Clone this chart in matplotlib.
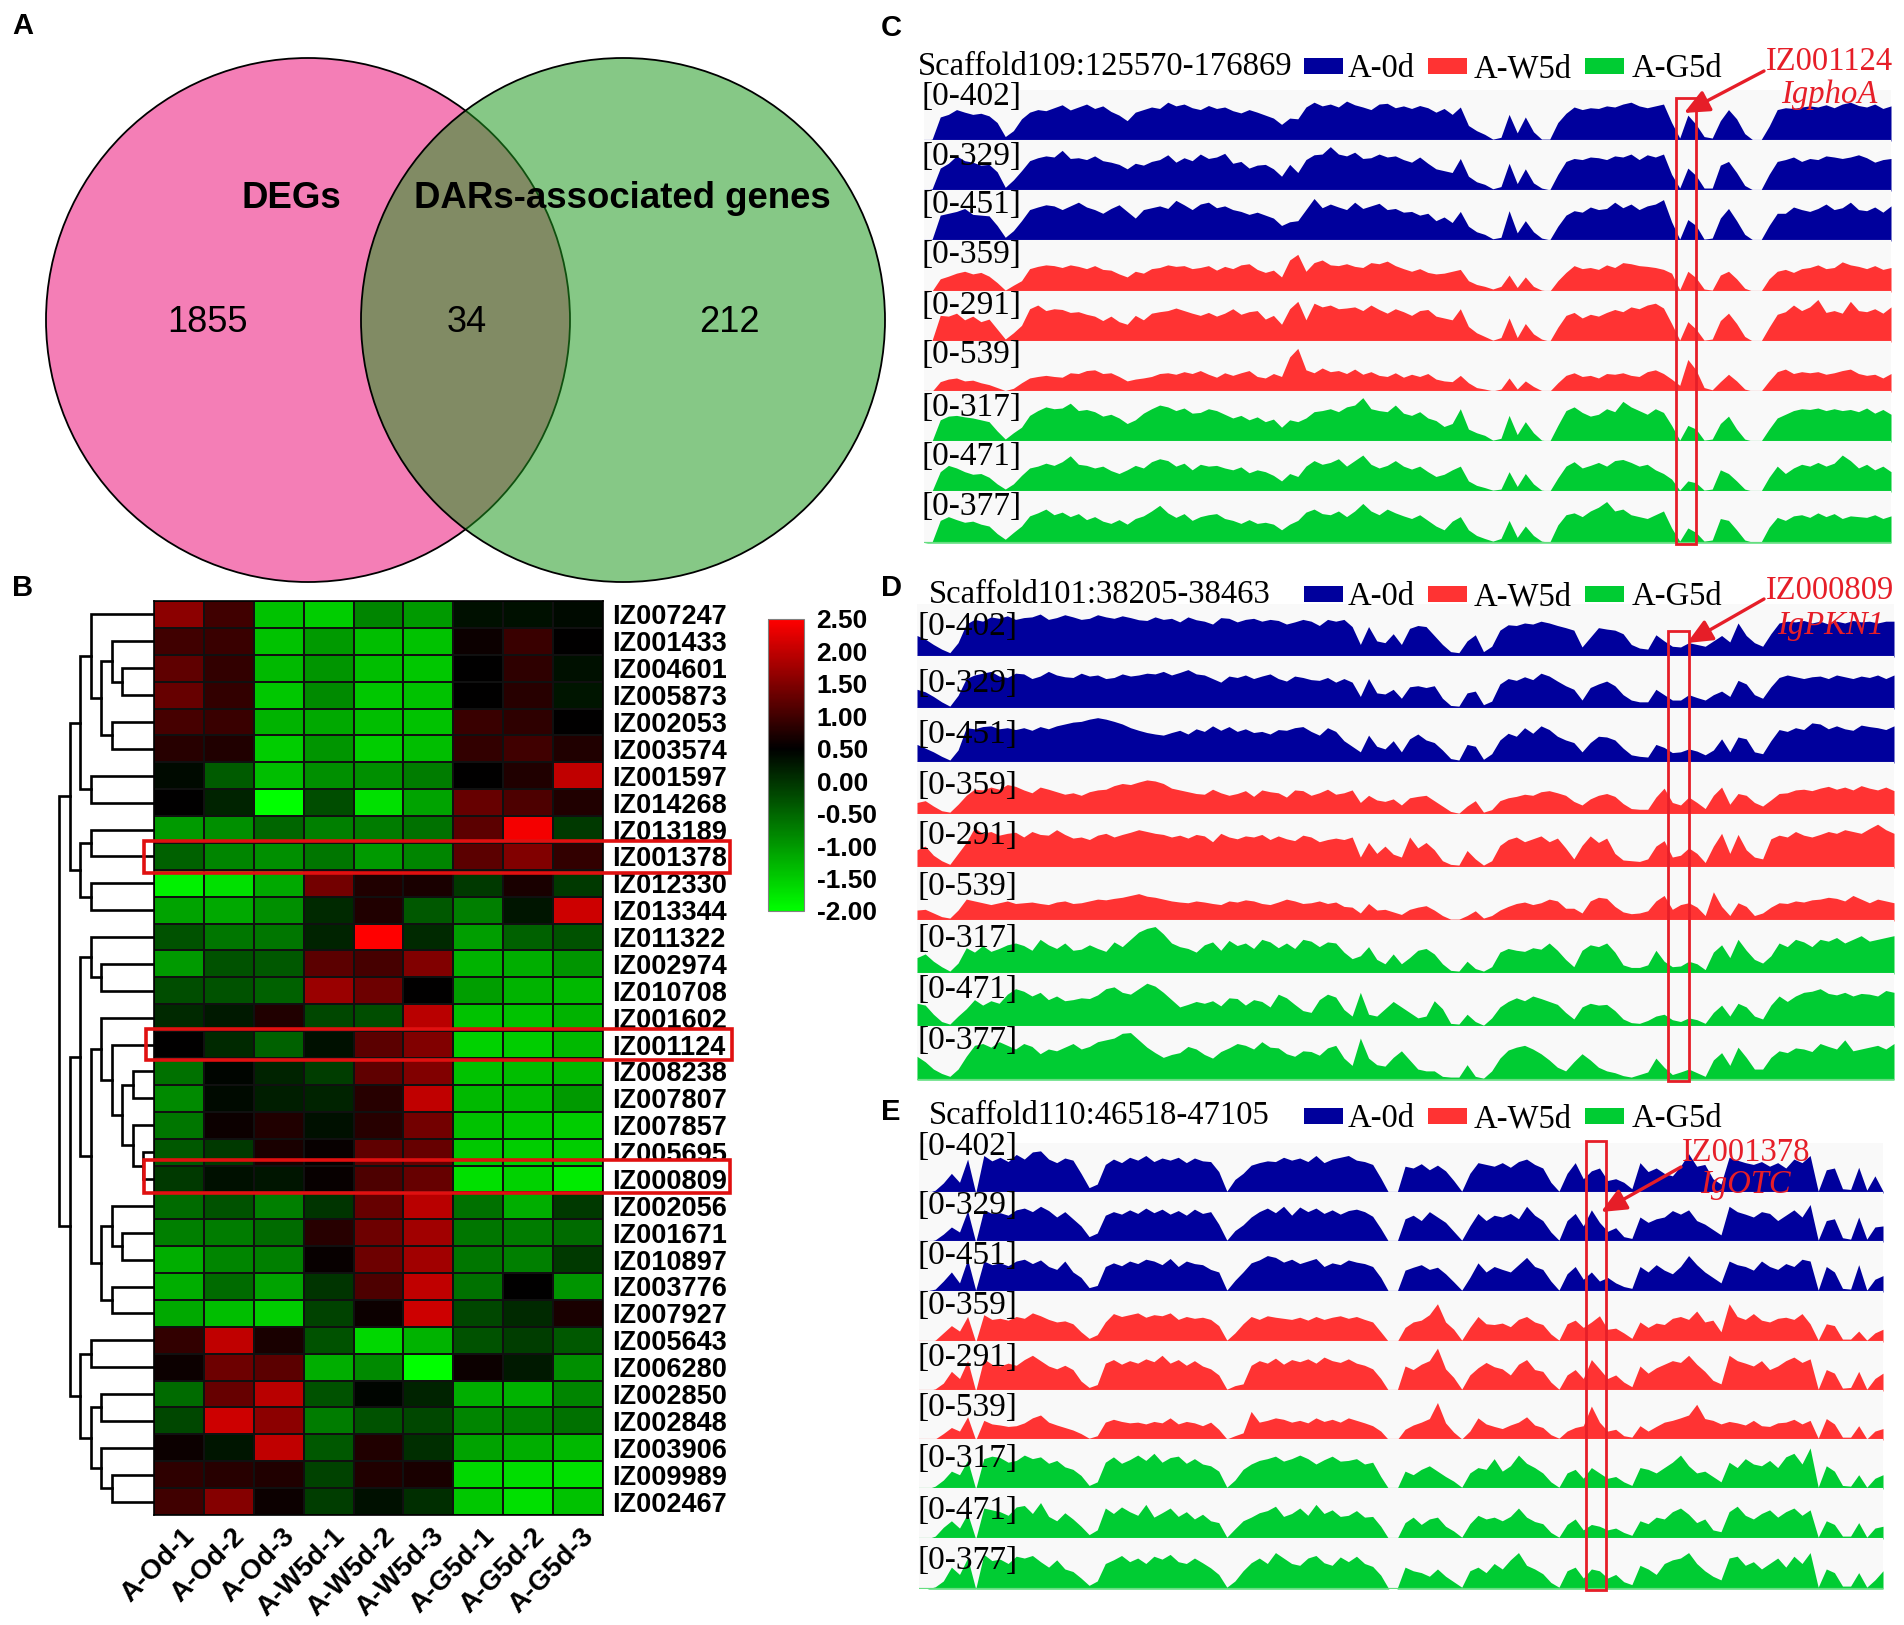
import matplotlib
matplotlib.use("Agg")
import matplotlib.pyplot as plt
from matplotlib.colors import LinearSegmentedColormap
from matplotlib.patches import Circle, Rectangle

W, H = 1904, 1625
SANS = "Liberation Sans"
SERIF = "Liberation Serif"
plt.rcParams["axes.unicode_minus"] = False

# panel A
venn_counts = ["1855", "34", "212"]
venn_names = ["DEGs", "DARs-associated genes"]

# panel B
samples = ["A-Od-1", "A-Od-2", "A-Od-3", "A-W5d-1", "A-W5d-2", "A-W5d-3", "A-G5d-1", "A-G5d-2", "A-G5d-3"]
genes = ["IZ007247", "IZ001433", "IZ004601", "IZ005873", "IZ002053", "IZ003574", "IZ001597", "IZ014268", "IZ013189",
         "IZ001378", "IZ012330", "IZ013344", "IZ011322", "IZ002974", "IZ010708", "IZ001602", "IZ001124", "IZ008238",
         "IZ007807", "IZ007857", "IZ005695", "IZ000809", "IZ002056", "IZ001671", "IZ010897", "IZ003776", "IZ007927",
         "IZ005643", "IZ006280", "IZ002850", "IZ002848", "IZ003906", "IZ009989", "IZ002467"]
expr = [
    [1.6, 1.0, -1.4, -1.5, -0.8, -1.0, 0.35, 0.35, 0.4],
    [1.0, 0.95, -1.4, -1.0, -1.35, -1.4, 0.6, 0.95, 0.5],
    [1.25, 0.9, -1.3, -0.95, -1.35, -1.45, 0.5, 0.85, 0.35],
    [1.3, 0.9, -1.45, -0.85, -1.45, -1.4, 0.5, 0.8, 0.3],
    [1.05, 0.95, -1.25, -1.15, -1.35, -1.4, 0.95, 0.85, 0.5],
    [0.8, 0.75, -1.5, -0.95, -1.5, -1.35, 0.9, 1.0, 0.75],
    [0.4, -0.4, -1.35, -0.9, -0.9, -0.7, 0.5, 0.75, 2.0],
    [0.5, 0.15, -2.0, -0.25, -1.7, -1.1, 1.3, 1.1, 0.75],
    [-1.0, -0.9, -0.5, -0.75, -0.7, -0.6, 1.2, 2.4, -0.05],
    [-0.45, -0.8, -0.9, -0.65, -1.0, -0.8, 1.2, 1.5, 0.9],
    [-1.85, -1.7, -1.15, 1.4, 0.75, 0.7, -0.05, 0.7, -0.05],
    [-1.1, -1.15, -0.9, 0.1, 0.75, -0.35, -0.75, 0.3, 2.1],
    [-0.3, -0.65, -0.65, 0.15, 2.5, 0.1, -1.05, -0.45, -0.3],
    [-1.0, -0.3, -0.35, 1.2, 1.05, 1.5, -1.25, -1.2, -0.95],
    [-0.25, -0.3, -0.45, 1.7, 1.35, 0.5, -1.05, -1.25, -1.3],
    [0.1, 0.25, 0.75, -0.2, -0.25, 1.95, -1.4, -1.4, -1.25],
    [0.5, 0.1, -0.45, 0.35, 1.2, 1.5, -1.55, -1.5, -1.3],
    [-0.6, 0.45, 0.15, -0.1, 1.25, 1.5, -1.4, -1.35, -1.3],
    [-0.85, 0.4, 0.2, 0.15, 0.8, 2.0, -1.3, -1.3, -1.0],
    [-0.65, 0.6, 0.75, 0.35, 0.8, 1.4, -1.4, -1.45, -1.5],
    [-0.35, -0.05, 0.7, 0.55, 1.25, 1.3, -1.45, -1.5, -1.5],
    [-0.05, 0.35, 0.3, 0.55, 1.1, 1.3, -1.7, -1.55, -1.8],
    [-0.55, -0.3, -0.75, 0.0, 1.3, 1.95, -0.6, -1.2, -0.05],
    [-0.75, -0.7, -0.55, 0.8, 1.35, 1.75, -0.65, -0.7, -0.55],
    [-1.2, -0.8, -0.75, 0.55, 1.35, 1.75, -0.65, -0.75, -0.05],
    [-1.2, -0.55, -1.1, 0.0, 1.1, 2.0, -0.6, 0.5, -0.95],
    [-1.15, -1.35, -1.5, -0.15, 0.6, 2.1, -0.2, 0.1, 0.7],
    [0.9, 2.0, 0.7, -0.3, -1.6, -1.25, -0.3, -0.1, -0.35],
    [0.6, 1.35, 1.2, -1.2, -0.85, -2.0, 0.6, 0.25, -0.9],
    [-0.55, 1.3, 1.95, -0.3, 0.45, 0.15, -1.2, -1.25, -0.8],
    [-0.2, 2.1, 1.6, -0.7, -0.3, -0.2, -0.8, -0.75, -0.6],
    [0.6, 0.3, 2.0, -0.35, 0.75, 0.05, -1.1, -1.2, -1.3],
    [0.85, 0.8, 0.75, -0.15, 0.75, 0.7, -1.6, -1.65, -1.7],
    [1.0, 1.55, 0.6, -0.1, 0.35, 0.05, -1.45, -1.7, -1.4],
]
cbar_ticks = [2.5, 2.0, 1.5, 1.0, 0.5, 0.0, -0.5, -1.0, -1.5, -2.0]
boxed_genes = ["IZ001378", "IZ001124", "IZ000809"]

# dendrogram: (level, child, child), ints are rows of expr
tree_top = (8, (7, (6, 0, (5, (4, 1, (3, 2, 3)), (4, 4, 5))), (6, 6, 7)), (7, (6, 8, 9), (6, 10, 11)))
tree_low = (8,
            (7, (6, 12, (5, 13, 14)),
             (6, (5, 15, (4, 16, (3, (2, 17, 18), (2, 19, (1, 20, 21))))), (5, (4, 22, (3, 23, 24)), (4, 25, 26)))),
            (7, (6, 27, 28), (6, (5, 29, 30), (5, 31, (4, 32, 33)))))
tree = (9, tree_top, tree_low)

# panels C-E: coverage
range_labels = ["[0-402]", "[0-329]", "[0-451]", "[0-359]", "[0-291]", "[0-539]", "[0-317]", "[0-471]", "[0-377]"]

c1 = [0,5,65,72,85,78,72,75,68,50,12,28,60,78,85,82,90,98,84,92,100,88,95,80,70,55,78,85,92,88,105,95,100,90,85,96,88,92,82,76,85,78,70,62,45,62,60,92,105,95,100,92,108,98,92,85,100,102,90,95,88,96,90,78,88,72,92,42,28,18,5,10,72,22,65,25,5,5,50,75,92,85,90,88,95,92,100,105,95,90,95,100,50,8,70,45,12,8,55,85,60,20,3,3,40,85,90,88,92,95,92,98,90,100,105,96,92,100,88,95]
c2 = [0,6,62,75,95,82,78,70,72,52,10,30,55,82,90,95,92,110,88,90,85,95,82,78,72,60,75,70,80,85,98,78,90,82,100,88,92,102,75,80,62,70,72,60,40,72,50,85,98,100,120,100,95,105,88,90,100,92,95,85,78,92,75,60,55,50,88,40,25,18,6,12,75,20,60,22,8,3,45,80,88,85,92,90,85,95,92,100,85,98,92,100,45,8,62,42,8,8,70,80,50,15,3,3,45,80,85,92,80,88,85,95,92,88,92,98,90,78,85,88]
c3 = [0,5,70,75,80,88,72,70,68,42,10,28,55,85,92,98,95,85,95,105,92,85,75,88,98,80,62,85,90,95,88,110,98,85,100,105,90,95,85,80,72,78,70,62,42,52,55,85,115,90,100,92,85,105,88,95,102,85,88,78,80,70,75,55,65,50,80,40,25,18,6,10,82,22,55,25,8,3,40,70,82,78,92,85,88,105,90,100,85,95,100,112,52,5,58,42,5,8,62,88,55,18,3,3,42,75,75,92,85,80,88,100,85,90,105,85,82,92,78,95]
c4 = [0,3,35,42,50,55,48,52,42,25,5,18,30,62,68,72,70,65,72,68,62,70,60,58,48,40,55,50,62,65,72,68,70,62,65,70,58,68,62,72,75,60,52,58,40,85,100,55,78,85,72,70,75,68,65,78,75,82,70,62,55,62,52,48,50,55,60,30,20,15,8,15,45,12,40,15,5,2,30,52,70,62,65,60,72,65,78,75,70,68,65,60,50,6,55,38,8,5,45,55,35,10,2,2,35,55,60,52,62,65,72,62,65,80,72,68,62,70,60,65]
c5 = [0,5,72,70,78,60,70,55,62,35,8,25,45,90,100,85,90,88,80,82,75,70,58,70,55,48,72,60,78,82,85,92,85,78,72,80,70,78,90,75,82,85,62,72,48,90,110,60,105,95,100,90,92,95,85,100,88,78,90,82,72,85,88,70,65,60,90,42,25,15,5,12,65,12,50,22,8,2,40,72,80,65,75,70,80,88,82,95,90,100,105,92,50,5,55,35,5,8,58,78,50,15,2,2,40,75,82,100,85,95,115,80,85,78,110,85,82,90,78,95]
c6 = [0,2,28,35,38,30,32,25,20,12,4,10,25,38,42,45,42,40,52,50,58,60,50,52,42,30,35,38,42,50,52,48,55,50,58,48,40,52,45,52,58,42,38,50,42,95,118,60,52,65,55,58,50,62,48,55,45,42,52,40,48,42,50,35,30,28,45,25,12,8,3,8,38,8,30,15,4,2,25,45,52,42,45,38,50,48,52,45,42,55,60,50,35,18,88,60,12,6,28,48,30,8,2,2,30,55,62,50,55,52,55,48,52,58,62,50,45,48,38,50]
c7 = [0,3,60,70,72,68,65,60,55,30,8,25,40,72,85,95,90,92,105,85,88,82,70,75,65,50,60,78,90,100,95,85,92,78,80,90,85,75,65,72,60,68,55,62,40,60,55,65,82,85,90,82,95,100,120,90,85,82,100,78,72,82,65,58,42,50,90,35,25,18,5,10,72,20,55,25,5,2,45,85,95,80,70,75,90,82,110,95,85,75,90,80,45,5,45,35,5,8,50,70,35,8,2,2,35,65,75,85,90,88,92,85,90,85,88,82,92,78,88,75]
c8 = [0,3,55,72,65,55,48,50,40,22,8,22,45,65,70,78,72,82,98,75,72,65,70,58,50,60,72,65,82,90,85,70,78,60,75,70,72,65,60,68,52,60,55,45,30,50,42,70,85,75,80,90,70,85,100,75,65,72,85,70,62,70,55,42,48,60,70,30,18,12,5,8,55,15,50,22,5,2,38,70,82,65,72,80,70,85,88,80,70,75,60,50,35,5,30,25,5,8,60,50,30,8,2,2,40,70,50,65,75,70,80,70,78,100,85,65,75,60,70,55]
c9 = [0,3,60,70,62,55,58,50,45,25,10,28,45,72,80,90,75,82,70,78,62,70,58,52,62,50,65,72,85,100,80,68,78,60,70,75,78,65,60,52,62,52,55,50,35,50,60,82,90,78,75,85,70,85,105,85,75,90,80,72,65,75,60,45,35,58,70,35,20,12,5,12,60,15,45,20,5,2,48,75,80,70,85,95,110,85,90,75,70,65,75,85,40,5,40,28,5,8,65,60,35,8,2,2,42,68,60,72,75,68,80,70,78,65,72,70,68,75,65,72]

d1 = [60,50,35,22,12,40,92,105,100,112,108,115,105,110,112,120,105,110,118,112,105,108,118,112,108,115,110,104,102,112,105,108,98,112,104,100,92,110,108,98,105,108,100,105,102,92,98,105,100,88,105,100,105,85,35,85,45,40,65,35,80,88,85,60,35,15,12,45,62,15,30,75,90,88,95,92,100,95,88,82,75,28,55,82,78,75,65,35,25,22,62,45,30,28,40,35,30,45,60,42,95,60,40,30,65,95,100,98,102,95,100,92,100,95,102,98,100,95,100,100]
d2 = [55,48,35,20,8,38,85,95,100,105,92,88,100,98,85,92,105,95,90,88,100,92,95,85,88,98,92,95,100,98,105,95,102,110,98,95,85,75,92,88,95,85,92,98,85,78,92,88,82,80,88,75,85,75,35,85,45,42,55,30,62,65,60,65,30,10,8,45,50,12,22,70,85,80,90,82,100,92,78,65,55,25,60,70,78,65,40,25,20,20,55,40,25,25,40,32,25,40,50,35,80,70,40,30,62,88,95,90,85,90,92,85,95,90,85,92,88,95,85,95]
d3 = [50,40,30,18,8,35,95,92,98,100,92,95,90,95,88,98,92,100,105,110,112,118,122,118,112,105,95,88,82,78,75,82,88,78,92,85,100,88,98,85,92,82,85,78,90,88,95,98,85,75,95,85,60,45,30,75,45,38,60,30,65,78,62,55,35,12,8,50,45,10,25,62,80,72,95,80,100,90,72,62,55,30,55,72,70,62,40,22,18,16,50,42,28,30,38,32,22,35,65,30,70,65,30,25,60,90,85,95,90,108,105,92,100,92,88,102,98,95,90,100]
d4 = [35,40,25,12,8,30,55,72,70,78,72,85,80,70,62,78,72,65,58,62,55,65,70,72,82,88,85,92,98,95,88,75,70,65,60,58,72,62,55,60,68,52,70,65,62,50,70,68,55,62,72,58,62,70,35,55,42,38,45,28,48,52,55,40,25,10,5,25,40,8,15,40,48,52,58,55,65,68,62,55,38,28,45,55,60,52,32,18,16,16,50,75,35,28,50,35,18,55,78,30,60,55,35,25,42,60,62,70,72,68,75,80,72,78,70,82,75,70,78,68]
d5 = [50,60,35,20,10,40,70,110,95,100,90,95,98,85,100,92,90,105,92,82,85,78,90,95,85,92,98,105,100,95,92,85,90,82,92,88,72,95,85,80,88,85,92,78,88,80,75,90,85,72,78,82,78,85,30,70,40,60,38,30,85,55,70,50,20,10,8,48,25,8,20,62,78,85,72,80,88,72,82,55,25,62,88,70,82,40,22,20,18,25,60,75,30,35,55,40,15,60,95,40,92,50,30,25,80,90,85,100,90,85,92,100,95,105,100,95,108,120,105,95]
d6 = [30,32,22,12,8,30,60,55,50,45,50,55,48,50,52,48,45,52,55,48,50,55,60,58,62,65,70,75,68,65,60,55,52,50,55,52,48,45,55,52,58,55,48,45,52,60,55,48,50,55,48,52,40,38,22,48,30,32,25,18,32,38,42,30,15,5,5,15,28,8,15,30,40,48,52,45,50,60,55,35,35,22,55,65,62,40,25,20,22,28,55,70,32,45,50,38,15,80,40,15,50,40,15,22,38,50,48,55,52,58,60,65,62,55,70,60,50,60,55,50]
d7 = [45,55,35,20,8,30,72,60,78,62,70,80,85,78,65,95,80,70,85,65,68,80,70,62,88,75,95,115,125,130,110,85,75,70,60,80,88,65,92,78,85,70,95,88,72,85,70,95,90,75,88,85,60,42,50,75,40,28,55,28,45,65,70,55,28,10,8,35,15,8,20,60,70,65,62,72,68,85,65,40,20,65,80,75,85,60,25,18,18,25,65,35,20,22,35,28,12,60,80,45,95,65,40,30,50,85,75,95,88,75,95,90,100,85,95,105,90,95,100,105]
d8 = [65,60,35,15,8,30,50,75,60,72,65,90,105,98,85,95,75,85,72,75,80,78,88,105,110,95,90,105,120,112,95,75,55,62,70,65,72,58,80,78,60,75,70,55,90,80,62,45,40,75,90,82,48,30,95,35,30,50,70,55,40,25,30,72,50,10,8,35,15,5,25,55,70,80,72,85,78,70,62,40,22,55,65,60,62,45,22,12,10,18,30,35,20,15,25,20,10,40,60,30,65,55,30,22,60,85,70,85,95,98,105,92,88,95,85,92,90,85,100,95]
d9 = [65,50,30,18,10,30,65,95,100,90,105,95,85,100,92,72,85,80,90,100,85,92,105,110,115,128,130,110,90,75,62,70,75,92,85,70,60,78,88,100,95,85,105,90,88,72,65,80,78,68,88,95,60,40,115,60,42,38,62,80,55,30,25,25,10,8,8,42,10,5,25,60,82,90,95,85,72,55,35,25,50,72,55,35,25,20,12,8,15,22,60,35,15,22,30,20,10,55,75,40,90,62,30,30,62,80,75,88,85,78,100,92,85,110,80,85,90,95,85,100]

e1 = [0,0,8,28,55,30,95,0,105,90,100,88,108,95,115,118,95,85,98,92,55,15,25,80,95,85,100,92,105,88,98,92,100,85,98,90,88,60,5,38,55,78,85,90,88,100,92,98,88,105,85,95,100,105,92,88,80,42,0,0,75,70,82,65,78,62,35,5,55,85,80,75,85,72,88,95,80,70,30,5,55,85,40,62,70,35,40,30,12,85,60,70,55,48,75,110,75,80,40,25,100,92,85,80,88,75,85,70,95,85,105,5,65,70,12,10,72,8,48,5]
e2 = [0,0,6,22,42,28,88,0,90,80,82,75,90,95,85,100,88,70,85,65,45,15,25,75,85,78,90,80,95,82,92,78,88,75,92,80,85,50,5,32,48,70,85,95,82,100,75,98,85,95,80,90,78,88,92,85,72,38,0,0,65,75,60,85,70,55,30,5,45,80,60,75,70,80,65,100,75,60,28,5,60,80,45,90,55,30,40,15,10,70,55,65,70,88,78,90,60,50,35,20,100,85,78,70,85,80,60,75,90,70,105,5,60,65,12,8,70,8,42,45]
e3 = [0,3,8,30,55,25,90,5,85,75,80,72,85,90,78,88,70,62,85,55,40,12,18,70,80,72,85,78,90,85,75,92,70,85,78,75,62,55,5,32,55,80,88,100,95,82,90,78,85,92,70,80,75,88,82,78,70,40,0,0,60,68,75,62,68,50,28,5,40,80,55,70,62,55,75,95,70,62,30,5,50,70,35,55,30,40,25,15,10,70,55,75,60,50,70,100,75,55,40,25,85,75,70,60,85,70,62,78,70,90,85,5,70,55,10,8,75,5,35,45]
e4 = [0,0,5,25,45,30,70,0,75,62,65,60,70,65,80,72,62,55,58,50,28,10,20,55,78,70,75,80,68,75,72,80,62,70,65,68,62,45,5,25,50,70,62,72,68,65,62,68,60,70,62,68,72,65,70,62,55,28,0,0,40,55,60,75,105,55,35,5,40,70,50,48,52,42,62,70,55,48,22,5,50,60,40,55,72,35,38,25,10,55,40,52,48,65,70,62,85,55,60,28,105,70,62,78,60,55,65,68,62,78,50,5,50,45,8,8,30,5,25,35]
e5 = [0,0,6,22,55,35,85,0,90,75,70,78,72,88,100,85,70,62,72,60,28,10,18,78,88,75,85,78,90,82,100,78,88,72,85,70,62,45,5,15,20,72,85,78,92,75,88,82,90,78,95,85,80,90,78,72,62,35,0,0,70,60,75,85,120,62,38,5,45,65,80,68,62,45,75,88,60,55,25,5,45,60,35,88,62,35,45,25,12,70,50,65,75,85,80,100,75,55,30,20,100,85,78,70,85,60,70,85,95,80,90,5,60,50,8,10,55,5,35,50]
e6 = [0,0,3,18,35,25,65,0,55,45,42,38,40,48,62,70,50,42,35,28,18,5,12,50,58,52,48,50,45,52,48,62,45,52,48,40,50,30,3,12,20,80,50,55,62,58,50,55,48,62,52,58,50,62,55,48,40,25,0,0,30,42,50,60,105,48,22,3,25,62,45,38,32,42,50,65,42,35,15,5,25,35,40,95,50,25,30,12,8,40,25,38,50,55,62,70,100,60,55,45,52,48,42,55,40,38,48,50,58,45,55,5,60,45,8,8,40,3,25,32]
e7 = [0,0,8,25,50,40,80,0,85,92,88,75,80,95,85,90,72,80,62,55,38,10,20,75,90,72,82,95,80,100,75,88,92,72,85,70,65,50,5,25,55,70,80,85,92,78,85,95,85,70,82,92,78,80,85,70,75,35,0,0,50,40,55,65,50,35,22,5,45,60,55,85,50,65,95,72,60,45,20,5,45,55,30,60,45,30,35,20,10,60,55,45,60,75,95,65,45,50,35,20,75,60,85,70,65,80,60,90,100,70,115,5,65,50,10,8,40,5,30,40]
e8 = [0,0,8,32,50,30,70,0,85,80,75,65,88,92,70,100,62,50,72,55,35,12,25,85,70,88,75,65,95,60,72,85,62,75,55,68,50,45,5,28,50,60,72,78,90,62,70,85,65,95,70,80,62,65,78,60,62,35,0,0,45,60,40,55,60,35,22,5,42,65,55,60,50,62,85,60,48,42,18,5,40,55,25,40,35,25,30,18,10,50,42,60,55,75,85,68,45,55,25,20,75,90,65,55,70,80,60,75,85,65,80,5,50,40,8,8,45,5,30,35]
e9 = [0,0,6,22,60,40,85,0,95,78,82,70,90,85,92,75,60,80,55,48,30,10,22,70,80,92,75,85,70,90,82,95,75,70,85,72,58,40,5,22,50,72,85,70,100,85,70,65,85,92,72,65,88,75,90,70,62,38,0,0,60,50,45,35,55,35,20,5,50,60,45,70,55,80,100,65,55,42,18,5,50,60,30,55,50,30,40,20,12,65,55,40,70,80,85,100,70,50,35,25,85,90,65,75,55,70,85,60,90,70,100,5,55,45,8,8,45,5,25,50]

track_colors = ["#00009c"] * 3 + ["#ff3333"] * 3 + ["#00cc33"] * 3
base_colors = ["#6666cc"] * 3 + ["#ff8080"] * 3 + ["#66dd80"] * 3
RED = "#e61e28"

panels = [
    dict(tracks=[c1, c2, c3, c4, c5, c6, c7, c8, c9], x=(924, 1891), ymax=138,
         base=[140, 190, 240, 291, 341, 391, 441, 491, 542],
         label_x=921, label_y=[97, 157, 205, 255, 306, 355, 408, 457, 507],
         title="Scaffold109:125570-176869", title_xy=(918, 67), legend_y=66,
         gene="IZ001124", gene_xy=(1766, 62), sym="IgphoA", sym_xy=(1781, 95),
         arrow=((1764, 71), (1684, 113)), box=(1676, 98, 1696, 544)),
    dict(tracks=[d1, d2, d3, d4, d5, d6, d7, d8, d9], x=(917, 1894), ymax=148,
         base=[656, 708, 762, 814, 867, 920, 973, 1026, 1079],
         label_x=918, label_y=[627, 684, 735, 786, 836, 887, 939, 990, 1041],
         title="Scaffold101:38205-38463", title_xy=(929, 595), legend_y=594,
         gene="IZ000809", gene_xy=(1766, 591), sym="IgPKN1", sym_xy=(1777, 626),
         arrow=((1764, 599), (1687, 643)), box=(1668, 631, 1689, 1081)),
    dict(tracks=[e1, e2, e3, e4, e5, e6, e7, e8, e9], x=(919, 1883), ymax=140,
         base=[1192, 1241, 1291, 1341, 1390, 1439, 1488, 1538, 1588],
         label_x=918, label_y=[1147, 1206, 1256, 1306, 1358, 1408, 1459, 1511, 1561],
         title="Scaffold110:46518-47105", title_xy=(929, 1116), legend_y=1116,
         gene="IZ001378", gene_xy=(1682, 1153), sym="IgOTC", sym_xy=(1700, 1185),
         arrow=((1681, 1167), (1601, 1212)), box=(1586, 1141, 1606, 1590)),
]


def px_axes(x0, y0, x1, y1, **kwargs):
    return fig.add_axes([x0 / W, 1 - y1 / H, (x1 - x0) / W, (y1 - y0) / H], **kwargs)


def draw_tree(ax, node):
    """Draw a dendrogram node, return its (level, row) position."""
    if isinstance(node, int):
        return 0, node + 0.5
    level, left, right = node
    lx, ly = draw_tree(ax, left)
    rx, ry = draw_tree(ax, right)
    ax.plot([lx, level, level, rx], [ly, ly, ry, ry], color="black", lw=1.9, solid_joinstyle="miter")
    return level, (ly + ry) / 2


fig = plt.figure(figsize=(W / 100, H / 100), dpi=100, facecolor="white")

# heatmap
top, bottom, left, right = 601, 1515, 154, 603
row_h = (bottom - top) / len(genes)
heat = px_axes(left, top, right, bottom)
cmap = LinearSegmentedColormap.from_list("gbr", [(0, "#00ff00"), (2.5 / 4.5, "#000000"), (1, "#ff0000")])
mesh = heat.pcolormesh(expr, cmap=cmap, vmin=-2, vmax=2.5, edgecolors="#101010", linewidth=1.1)
heat.set_ylim(len(genes), 0)
heat.set_yticks([])
# labels end a bit right of the column centre, as in the picture
heat.set_xticks([i + 0.56 for i in range(len(samples))], samples, rotation=45, ha="right", va="top",
                rotation_mode="anchor", fontsize=20, fontweight="bold", family=SANS)
heat.tick_params(axis="x", length=0, pad=6)
for spine in heat.spines.values():
    spine.set_linewidth(1.2)

dend = px_axes(left - 105, top, left, bottom)
draw_tree(dend, tree)
dend.set_xlim(10, 0)
dend.set_ylim(len(genes), 0)
dend.axis("off")

cax = px_axes(768, 619, 804, 911)
cbar = fig.colorbar(mesh, cax=cax, ticks=cbar_ticks, format="%.2f")
cbar.ax.tick_params(length=0, pad=9)
cbar.outline.set_edgecolor("#808080")
for label in cbar.ax.get_yticklabels():
    label.set(fontsize=19, fontweight="bold", family=SANS)

# coverage tracks
for panel in panels:
    for i, values in enumerate(panel["tracks"]):
        y1 = panel["base"][i]
        y0 = panel["base"][i - 1] if i else y1 - (panel["base"][1] - panel["base"][0])
        ax = px_axes(panel["x"][0], y0, panel["x"][1], y1 + 1)
        ax.fill_between(range(len(values)), values, 0, color=track_colors[i], lw=0)
        ax.axhline(0, color=base_colors[i], lw=1.6)
        ax.set_xlim(0, len(values) - 1)
        ax.set_ylim(0, panel["ymax"])
        ax.set_facecolor("#f9f9f9")
        ax.set_xticks([])
        ax.set_yticks([])
        for spine in ax.spines.values():
            spine.set_visible(False)

# everything on top is placed in picture pixels
ov = fig.add_axes([0, 0, 1, 1], zorder=10)
ov.set_xlim(0, W)
ov.set_ylim(H, 0)
ov.axis("off")

for name, xy in zip("ABCDE", [(12, 26), (12, 588), (881, 28), (881, 588), (881, 1112)]):
    ov.text(*xy, name, fontsize=21, fontweight="bold", family=SANS, ha="left", va="center")

ov.add_patch(Circle((308, 320), 262, fc=(244 / 255, 126 / 255, 182 / 255), ec="black", lw=1.3))
ov.add_patch(Circle((623, 320), 262, fc=(29 / 255, 152 / 255, 29 / 255, 0.535), ec="black", lw=1.3))
for name, x in zip(venn_names, [291, 622]):
    ov.text(x, 199, name, fontsize=26.4, fontweight="bold", family=SANS, ha="center", va="center")
for count, x in zip(venn_counts, [207, 467, 729]):
    ov.text(x, 323, count, fontsize=26, family=SANS, ha="center", va="center")

for i, gene in enumerate(genes):
    boxed = gene in boxed_genes
    ov.text(612, top + (i + 0.5) * row_h + 3, gene, fontsize=19.5, fontweight="bold", family=SANS,
            ha="left", va="center", zorder=6 if boxed else 3)
for x0, y0, x1, y1 in [(143.5, 841, 730, 873), (146, 1029, 732, 1060), (143.5, 1160, 730, 1193)]:
    ov.add_patch(Rectangle((right + 1, y0), x1 - right - 1, y1 - y0, fc="white", ec="none", zorder=4))
    ov.add_patch(Rectangle((x0, y0), x1 - x0, y1 - y0, fc="none", ec="#e01010", lw=2.6, zorder=7))

for panel in panels:
    for text, y in zip(range_labels, panel["label_y"]):
        ov.text(panel["label_x"], y, text, fontsize=24, family=SERIF, ha="left", va="center")
    ov.text(*panel["title_xy"], panel["title"], fontsize=23.5, family=SERIF, ha="left", va="center")
    ly = panel["legend_y"]
    for color, x, name, tx in zip(["#00009c", "#ff3333", "#00cc33"], [1304, 1428, 1585],
                                  ["A-0d", "A-W5d", "A-G5d"], [1348, 1474, 1632]):
        ov.add_patch(Rectangle((x, ly - 8), 39, 16, fc=color, ec="none"))
        ov.text(tx, ly + 3, name, fontsize=23.5, family=SERIF, ha="left", va="center")
    ov.text(*panel["gene_xy"], panel["gene"], fontsize=23.5, color=RED, family=SERIF, ha="left", va="center")
    ov.text(*panel["sym_xy"], panel["sym"], fontsize=23.5, color=RED, family=SERIF, style="italic",
            ha="left", va="center")
    start, tip = panel["arrow"]
    ov.annotate("", xy=tip, xytext=start,
                arrowprops=dict(arrowstyle="-|>,head_width=0.4,head_length=0.9", color=RED, lw=2.4,
                                mutation_scale=17, shrinkA=0, shrinkB=0))
    x0, y0, x1, y1 = panel["box"]
    ov.add_patch(Rectangle((x0, y0), x1 - x0, y1 - y0, fc="none", ec=RED, lw=2.0))

fig.savefig("out.png", dpi=100)
